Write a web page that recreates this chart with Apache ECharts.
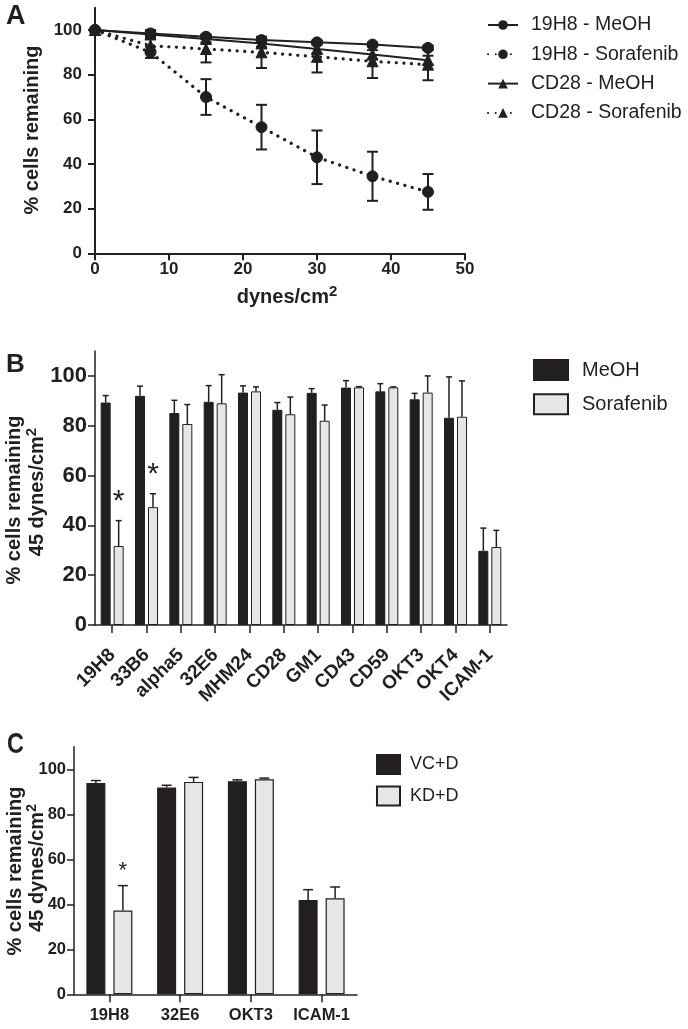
<!DOCTYPE html>
<html><head><meta charset="utf-8">
<script src="https://cdn.jsdelivr.net/npm/echarts@6/dist/echarts.min.js"></script>
<style>html,body{margin:0;padding:0;background:#fff}#c{width:688px;height:1029px}</style>
</head><body><div id="c"></div>
<script>
// ---------- Panel A data ----------
const dynes = [0, 7.5, 15, 22.5, 30, 37.5, 45];
const h19MeOH = [100, 98.5, 97, 95.5, 94.5, 93.5, 92];
const h19MeOHErr = [0, 1.5, 1, 1, 0.8, 0.8, 1];
const h19Sor = [100, 90, 70, 56.5, 43, 34.5, 27.5];
const h19SorErr = [0, 2.5, 8, 10, 12, 11, 8];
const cd28MeOH = [100, 98, 96, 94, 91.5, 89, 86.5];
const cd28MeOHErr = [0, 1.5, 1.5, 1.5, 2, 2, 2];
const cd28Sor = [100, 93, 91.5, 90, 88, 86, 84.5];
const cd28SorErr = [0, 3, 6, 7, 7, 7.5, 7];
const seriesNamesA = ['19H8 - MeOH', '19H8 - Sorafenib', 'CD28 - MeOH', 'CD28 - Sorafenib'];
const yTicks = [0, 20, 40, 60, 80, 100];

// ---------- Panel B data ----------
const catsB = ['19H8', '33B6', 'alpha5', '32E6', 'MHM24', 'CD28', 'GM1', 'CD43', 'CD59', 'OKT3', 'OKT4', 'ICAM-1'];
const meohB = [89.3, 92, 85.1, 89.6, 93.3, 86.4, 93.2, 95.3, 93.8, 90.6, 83.2, 29.8];
const meohErrB = [2.8, 3.9, 5.1, 6.5, 2.7, 2.9, 1.7, 2.8, 3.1, 2.4, 16.4, 9.1];
const sorB = [31.7, 47.3, 80.7, 89, 93.8, 84.6, 82, 95.4, 95.4, 93.3, 83.6, 31.3];
const sorErrB = [10.2, 5.4, 7.8, 11.5, 1.8, 6.9, 6.3, 0.3, 0.2, 6.7, 14.4, 6.7];
const sigB = [0, 1];

// ---------- Panel C data ----------
const catsC = ['19H8', '32E6', 'OKT3', 'ICAM-1'];
const vcC = [93.9, 91.9, 94.7, 41.9];
const vcErrC = [1.1, 1, 0.6, 4.6];
const kdC = [37.2, 94.4, 95.6, 42.7];
const kdErrC = [11.1, 2, 0.5, 5];
const sigC = [0];

const INK = '#231f20';
const GREY = '#e6e6e6';
const F = '"Liberation Sans", Arial, Helvetica, sans-serif';

function errBar(o) {
  return function (params, api) {
    const x = api.value(0), y = api.value(1), e = api.value(2);
    if (!e) return null;
    const p = api.coord([x, y]);
    const t = api.coord([x, y + e]);
    const b = o.both ? api.coord([x, y - e]) : p;
    const cx = p[0] + o.offset, h = o.cap / 2;
    const style = { stroke: INK, lineWidth: o.width, fill: null };
    const ch = [
      { type: 'line', shape: { x1: cx, y1: t[1], x2: cx, y2: b[1] }, style },
      { type: 'line', shape: { x1: cx - h, y1: t[1], x2: cx + h, y2: t[1] }, style }
    ];
    if (o.both) ch.push({ type: 'line', shape: { x1: cx - h, y1: b[1], x2: cx + h, y2: b[1] }, style });
    return { type: 'group', children: ch };
  };
}
function star(o) {
  return function (params, api) {
    const p = api.coord([api.value(0), api.value(1)]);
    return { type: 'text', x: p[0] + o.offset, y: p[1] - o.gap,
      style: { text: '*', fontSize: o.size, fontFamily: F, fill: INK, align: 'center', verticalAlign: 'middle' } };
  };
}

const chart = echarts.init(document.getElementById('c'), null, { renderer: 'canvas' });

const axisLineS = w => ({ show: true, lineStyle: { color: INK, width: w } });

const grids = [
  { left: 95, top: 7.7, width: 370, height: 245.6, outerBoundsMode: 'none', containLabel: false },
  { left: 95, top: 351, width: 412, height: 274, outerBoundsMode: 'none', containLabel: false },
  { left: 74, top: 746.8, width: 283, height: 247.5, outerBoundsMode: 'none', containLabel: false }
];

const xAxes = [
  { gridIndex: 0, type: 'value', min: 0, max: 50, interval: 10,
    axisLine: axisLineS(2), axisTick: { show: true, length: 7, lineStyle: { color: INK, width: 2 } },
    axisLabel: { color: INK, fontSize: 17, fontWeight: 'bold', fontFamily: F, margin: 8 },
    splitLine: { show: false } },
  { gridIndex: 1, type: 'category', data: catsB,
    axisLine: axisLineS(1.5), axisTick: { show: true, alignWithLabel: true, length: 8, lineStyle: { color: INK, width: 1.5 } },
    axisLabel: { color: INK, fontSize: 19, fontWeight: 'bold', fontFamily: F, rotate: 45, margin: 27, interval: 0 },
    splitLine: { show: false } },
  { gridIndex: 2, type: 'category', data: catsC,
    axisLine: axisLineS(1.5), axisTick: { show: true, alignWithLabel: true, length: 8, lineStyle: { color: INK, width: 1.5 } },
    axisLabel: { color: INK, fontSize: 16.5, fontWeight: 'bold', fontFamily: F, margin: 13, interval: 0 },
    splitLine: { show: false } }
];

const yAx = (gi, w, fs, margin) => ({
  gridIndex: gi, type: 'value', min: 0, max: 110,
  axisLine: axisLineS(w),
  axisTick: { show: true, length: 7, customValues: yTicks, lineStyle: { color: INK, width: w } },
  axisLabel: { color: INK, fontSize: fs, fontWeight: 'bold', fontFamily: F, margin, customValues: yTicks },
  splitLine: { show: false }
});
const yAxes = [yAx(0, 2, 17, 13), yAx(1, 1.5, 22, 8), yAx(2, 1.5, 16.5, 8)];

const lineSeries = (name, vals, sym, dotted) => ({
  type: 'line', name, xAxisIndex: 0, yAxisIndex: 0,
  data: dynes.map((d, i) => [d, vals[i]]),
  symbol: sym, symbolSize: 11, z: 4,
  itemStyle: { color: INK, borderColor: INK },
  lineStyle: dotted ? { color: INK, width: 3.2, type: [0.1, 7.5], cap: 'round' } : { color: INK, width: 2 }
});
const errA = (vals, errs) => ({
  type: 'custom', xAxisIndex: 0, yAxisIndex: 0, z: 5, clip: false,
  renderItem: errBar({ offset: 0, cap: 11, width: 2, both: true }),
  encode: { x: 0, y: 1 },
  data: dynes.map((d, i) => [d, vals[i], errs[i]])
});
const errCat = (ax, vals, errs, off, cap, w) => ({
  type: 'custom', xAxisIndex: ax, yAxisIndex: ax, z: 5, clip: false,
  renderItem: errBar({ offset: off, cap, width: w, both: false }),
  encode: { x: 0, y: 1 },
  data: vals.map((v, i) => [i, v, errs[i]])
});
const starSeries = (ax, idx, vals, errs, off, gap, size) => ({
  type: 'custom', xAxisIndex: ax, yAxisIndex: ax, z: 6, clip: false,
  renderItem: star({ offset: off, gap, size }),
  encode: { x: 0, y: 1 },
  data: idx.map(i => [i, vals[i] + errs[i]])
});

const barB = (name, vals, fill) => ({
  type: 'bar', name, xAxisIndex: 1, yAxisIndex: 1, data: vals,
  barWidth: 10, barGap: '30%',
  itemStyle: { color: fill, borderColor: INK, borderWidth: 1 }
});
const barC = (name, vals, fill) => ({
  type: 'bar', name, xAxisIndex: 2, yAxisIndex: 2, data: vals,
  barWidth: 19, barGap: '42%',
  itemStyle: { color: fill, borderColor: INK, borderWidth: 1.2 }
});

const supRich = (fs, sfs, lh) => ({
  a: { fontSize: fs, fontWeight: 'bold', fontFamily: F, fill: INK, lineHeight: lh },
  s: { fontSize: sfs, fontWeight: 'bold', fontFamily: F, fill: INK, verticalAlign: 'top', lineHeight: sfs }
});

const option = {
  animation: false,
  backgroundColor: '#fff',
  grid: grids,
  xAxis: xAxes,
  yAxis: yAxes,
  legend: [
    { data: seriesNamesA, orient: 'vertical', left: 487, top: 15, padding: 0, itemWidth: 30, itemHeight: 12, itemGap: 9.3,
      selectedMode: false, textStyle: { color: INK, fontSize: 19.5, fontFamily: F, padding: [0, 0, 0, 8] } },
    { data: ['MeOH', 'Sorafenib'], orient: 'vertical', left: 533, top: 359, padding: 0, itemWidth: 34, itemHeight: 20, itemGap: 12.2,
      icon: 'rect', selectedMode: false, textStyle: { color: INK, fontSize: 20, fontFamily: F, padding: [0, 0, 0, 9] } },
    { data: ['VC+D', 'KD+D'], orient: 'vertical', left: 376, top: 754, padding: 0, itemWidth: 23, itemHeight: 19, itemGap: 10.4,
      icon: 'rect', selectedMode: false, textStyle: { color: INK, fontSize: 18, fontFamily: F, padding: [0, 0, 0, 5] } }
  ],
  graphic: [
    { type: 'text', x: 6, y: 3, style: { text: 'A', fontSize: 27, fontWeight: 'bold', fontFamily: F, fill: INK, align: 'left', verticalAlign: 'top' } },
    { type: 'text', x: 32, y: 130, rotation: Math.PI / 2, style: { text: '% cells remaining', fontSize: 20, fontWeight: 'bold', fontFamily: F, fill: INK, align: 'center', verticalAlign: 'middle' } },
    { type: 'text', x: 287, y: 297, style: { text: '{a|dynes/cm}{s|2}', rich: supRich(20, 15, 26), align: 'center', verticalAlign: 'middle' } },

    { type: 'text', x: 6, y: 352, style: { text: 'B', fontSize: 26, fontWeight: 'bold', fontFamily: F, fill: INK, align: 'left', verticalAlign: 'top' } },
    { type: 'text', x: 14, y: 500, rotation: Math.PI / 2, style: { text: '% cells remaining', fontSize: 20, fontWeight: 'bold', fontFamily: F, fill: INK, align: 'center', verticalAlign: 'middle' } },
    { type: 'text', x: 37, y: 492, rotation: Math.PI / 2, style: { text: '{a|45 dynes/cm}{s|2}', rich: supRich(20, 15, 25), align: 'center', verticalAlign: 'middle' } },

    { type: 'text', x: 7, y: 730, scaleX: 0.78, style: { text: 'C', fontSize: 30, fontWeight: 'bold', fontFamily: F, fill: INK, align: 'left', verticalAlign: 'top' } },
    { type: 'text', x: 15, y: 871, rotation: Math.PI / 2, style: { text: '% cells remaining', fontSize: 20, fontWeight: 'bold', fontFamily: F, fill: INK, align: 'center', verticalAlign: 'middle' } },
    { type: 'text', x: 37, y: 868, rotation: Math.PI / 2, style: { text: '{a|45 dynes/cm}{s|2}', rich: supRich(20, 14, 24), align: 'center', verticalAlign: 'middle' } }
  ],
  series: [
    lineSeries(seriesNamesA[0], h19MeOH, 'circle', false),
    lineSeries(seriesNamesA[1], h19Sor, 'circle', true),
    lineSeries(seriesNamesA[2], cd28MeOH, 'triangle', false),
    lineSeries(seriesNamesA[3], cd28Sor, 'triangle', true),
    errA(h19MeOH, h19MeOHErr), errA(h19Sor, h19SorErr), errA(cd28MeOH, cd28MeOHErr), errA(cd28Sor, cd28SorErr),

    barB('MeOH', meohB, INK), barB('Sorafenib', sorB, GREY),
    errCat(1, meohB, meohErrB, -6.5, 6, 1.5), errCat(1, sorB, sorErrB, 6.5, 6, 1.5),
    starSeries(1, sigB, sorB, sorErrB, 6.5, 19, 30),

    barC('VC+D', vcC, INK), barC('KD+D', kdC, GREY),
    errCat(2, vcC, vcErrC, -13.5, 10, 1.5), errCat(2, kdC, kdErrC, 13.5, 10, 1.5),
    starSeries(2, sigC, kdC, kdErrC, 13.5, 15, 22)
  ]
};
chart.setOption(option);
</script></body></html>
